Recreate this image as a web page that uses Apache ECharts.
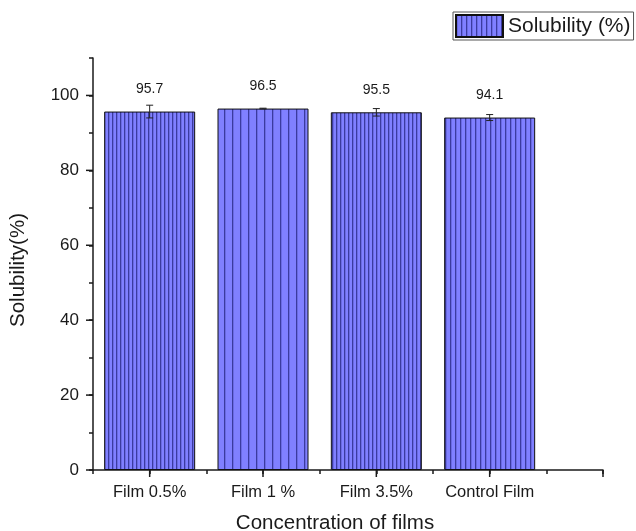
<!DOCTYPE html>
<html>
<head>
<meta charset="utf-8">
<script src="https://cdn.jsdelivr.net/npm/echarts@6/dist/echarts.min.js"></script>
<style>
  html, body { margin: 0; padding: 0; background: #fff; }
  #chart { width: 636px; height: 531px; }
</style>
</head>
<body>
<div id="chart"></div>
<script>
// Film solubility data
const categories = ['Film 0.5%', 'Film 1 %', 'Film 3.5%', 'Control Film'];
const solubility = [95.7, 96.5, 95.5, 94.1];
const solubilityErr = [1.7, 0.1, 1.0, 0.8];
const yMajorTicks = [0, 20, 40, 60, 80, 100];
const xMajorTicks = [1, 3, 5, 7, 9];

// striped fill for the bars
function stripes(step) {
  const c = document.createElement('canvas');
  c.width = step; c.height = 8;
  const g = c.getContext('2d');
  g.fillStyle = '#8080ff';
  g.fillRect(0, 0, step, 8);
  g.fillStyle = '#3b3b9e';
  g.fillRect(0, 0, 1.3, 8);
  return { image: c, repeat: 'repeat' };
}
const stripeSteps = [4, 8, 4, 5];

const font = 'Liberation Sans, Arial, sans-serif';
const ink = '#1a1a1a';

// category i sits at x = 2i + 1 on a half-slot value scale
const barData = solubility.map((v, i) => ({
  value: [2 * i + 1, v],
  itemStyle: { color: stripes(stripeSteps[i]) }
}));
const errData = solubility.map((v, i) => [2 * i + 1, v - solubilityErr[i], v + solubilityErr[i]]);

const chart = echarts.init(document.getElementById('chart'), null, { renderer: 'canvas' });
chart.setOption({
  animation: false,
  backgroundColor: '#fff',
  grid: { left: 93, top: 58, right: 33, bottom: 61 },
  legend: {
    data: [{ name: 'Solubility (%)', icon: 'rect' }],
    left: 453, top: 12,
    borderColor: '#555', borderWidth: 1,
    padding: [2, 3, 2, 2],
    itemWidth: 47, itemHeight: 22, itemGap: 6,
    textStyle: { fontFamily: font, fontSize: 21, color: ink }
  },
  xAxis: {
    type: 'value', min: 0, max: 9, interval: 1,
    splitLine: { show: false },
    axisLine: { show: true, lineStyle: { color: ink, width: 1.5 } },
    axisTick: { show: true, length: 4, lineStyle: { color: ink, width: 1.5 } },
    axisLabel: {
      margin: 14, fontFamily: font, fontSize: 16.5, color: ink,
      formatter: v => (v % 2 === 1 && categories[(v - 1) / 2]) ? categories[(v - 1) / 2] : ''
    }
  },
  yAxis: {
    type: 'value', min: 0, max: 110, interval: 10,
    splitLine: { show: false },
    axisLine: { show: true, lineStyle: { color: ink, width: 1.5 } },
    axisTick: { show: true, length: 4, lineStyle: { color: ink, width: 1.5 } },
    axisLabel: {
      margin: 14, fontFamily: font, fontSize: 17, color: ink,
      formatter: v => (v % 20 === 0 && v <= 100) ? String(v) : ''
    }
  },
  graphic: [
    {
      type: 'text', x: 335, y: 523,
      style: { text: 'Concentration of films', font: '20.5px ' + font, fill: ink, align: 'center', verticalAlign: 'middle' }
    },
    {
      type: 'text', x: 18, y: 270, rotation: Math.PI / 2,
      style: { text: 'Solubility(%)', font: '20.5px ' + font, fill: ink, align: 'center', verticalAlign: 'middle' }
    }
  ],
  series: [
    {
      name: 'Solubility (%)',
      type: 'bar',
      barWidth: 91,
      data: barData,
      itemStyle: { color: stripes(5), borderColor: '#111', borderWidth: 1 },
      label: {
        show: true, position: 'top', distance: 15,
        fontFamily: font, fontSize: 14, color: ink,
        formatter: p => p.value[1].toFixed(1)
      }
    },
    {
      name: 'err',
      type: 'custom',
      data: errData,
      z: 5,
      renderItem: (params, api) => {
        const x = api.value(0);
        const lo = api.coord([x, api.value(1)]);
        const hi = api.coord([x, api.value(2)]);
        const w = 3.5;
        const s = { stroke: '#222', lineWidth: 1 };
        return {
          type: 'group',
          children: [
            { type: 'line', shape: { x1: lo[0], y1: lo[1], x2: hi[0], y2: hi[1] }, style: s },
            { type: 'line', shape: { x1: lo[0] - w, y1: lo[1], x2: lo[0] + w, y2: lo[1] }, style: s },
            { type: 'line', shape: { x1: hi[0] - w, y1: hi[1], x2: hi[0] + w, y2: hi[1] }, style: s }
          ]
        };
      }
    },
    {
      name: 'yTicks',
      type: 'custom',
      clip: false,
      data: yMajorTicks.map(v => [0, v]),
      renderItem: (params, api) => {
        const p = api.coord([0, api.value(1)]);
        return { type: 'line', shape: { x1: p[0] - 7, y1: p[1], x2: p[0], y2: p[1] }, style: { stroke: ink, lineWidth: 1.5 } };
      }
    },
    {
      name: 'xTicks',
      type: 'custom',
      clip: false,
      data: xMajorTicks.map(v => [v, 0]),
      renderItem: (params, api) => {
        const p = api.coord([api.value(0), 0]);
        return { type: 'line', shape: { x1: p[0], y1: p[1], x2: p[0], y2: p[1] + 7 }, style: { stroke: ink, lineWidth: 1.5 } };
      }
    }
  ]
});
</script>
</body>
</html>
